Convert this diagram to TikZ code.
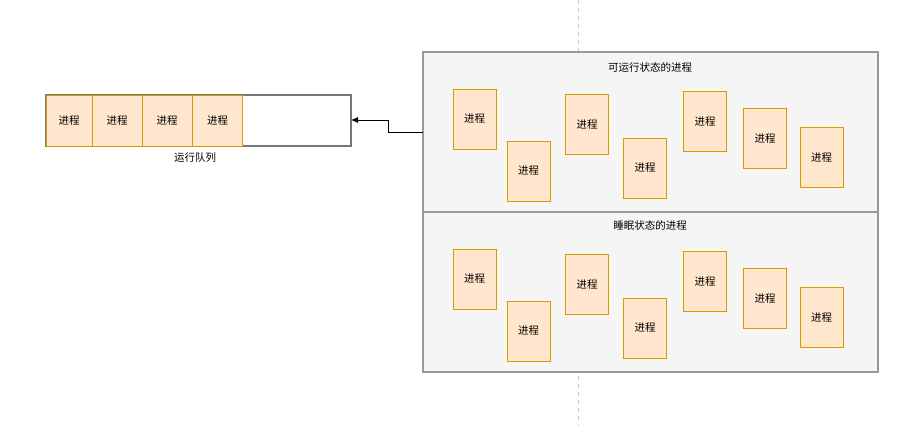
\documentclass[tikz,border=0pt]{standalone}
\usepackage{fontspec}
\setmainfont{Noto Sans CJK SC}
\usetikzlibrary{arrows.meta}
\definecolor{procfill}{HTML}{FFE6CC}
\definecolor{procdraw}{HTML}{D79B00}
\definecolor{panelfill}{HTML}{F5F5F5}
\definecolor{paneldraw}{HTML}{9A9A9A}
\definecolor{queuedraw}{HTML}{777777}
\definecolor{guide}{HTML}{C8C8C8}
\tikzset{
  x=1pt,y=-1pt,
  every node/.style={font=\fontsize{10.5}{12}\selectfont, inner sep=0pt, outer sep=0pt},
  proc/.style={draw=procdraw, fill=procfill, line width=0.9pt, minimum width=43pt, minimum height=60pt},
  cell/.style={draw=procdraw, fill=procfill, line width=0.9pt, minimum width=50pt, minimum height=51pt},
  panel/.style={draw=paneldraw, fill=panelfill, line width=1.1pt, minimum width=455pt, minimum height=160pt},
  queuebox/.style={draw=queuedraw, fill=white, line width=1.1pt, minimum width=305pt, minimum height=51pt},
  guideline/.style={draw=guide, dashed, line width=0.8pt, dash pattern=on 4pt off 4pt},
  link/.style={draw=black, line width=0.9pt, -{Latex[length=7pt,width=6pt]}}
}
\begin{document}
\begin{tikzpicture}
\useasboundingbox (0,0) rectangle (909,425);
% guide line
\coordinate (gtop) at (578,0);
\coordinate (gbot) at (578,425);
\draw[guideline] (gtop) -- (gbot);
% panels
\node[panel] (runpanel) at (650.5,132) {};
\node[panel] (sleeppanel) at (650.5,292) {};
\node (runtitle) at (650,68) {可运行状态的进程};
\node (sleeptitle) at (650,226) {睡眠状态的进程};
% running processes
\node[proc] (r1) at (474.5,119) {进程};
\node[proc] (r2) at (528.5,171) {进程};
\node[proc] (r3) at (587,124.5) {进程};
\node[proc] (r4) at (645,168) {进程};
\node[proc] (r5) at (705,121.5) {进程};
\node[proc] (r6) at (765,138.5) {进程};
\node[proc] (r7) at (821.5,157.5) {进程};
% sleeping processes
\node[proc] (s1) at (474.5,279) {进程};
\node[proc] (s2) at (528.5,331) {进程};
\node[proc] (s3) at (587,284.5) {进程};
\node[proc] (s4) at (645,328) {进程};
\node[proc] (s5) at (705,281.5) {进程};
\node[proc] (s6) at (765,298.5) {进程};
\node[proc] (s7) at (821.5,317.5) {进程};
% run queue
\node[queuebox] (queue) at (198.5,120.5) {};
\node[cell, minimum width=46pt] (q1) at (69,120.5) {进程};
\node[cell] (q2) at (117,120.5) {进程};
\node[cell] (q3) at (167,120.5) {进程};
\node[cell] (q4) at (217.5,120.5) {进程};
\node (qlabel) at (195,158) {运行队列};
% connector
\coordinate (bend1) at (388,132);
\coordinate (bend2) at (388,120);
\draw[link] (runpanel.west) -- (bend1) -- (bend2) -- (queue.east |- bend2);
\end{tikzpicture}
\end{document}
